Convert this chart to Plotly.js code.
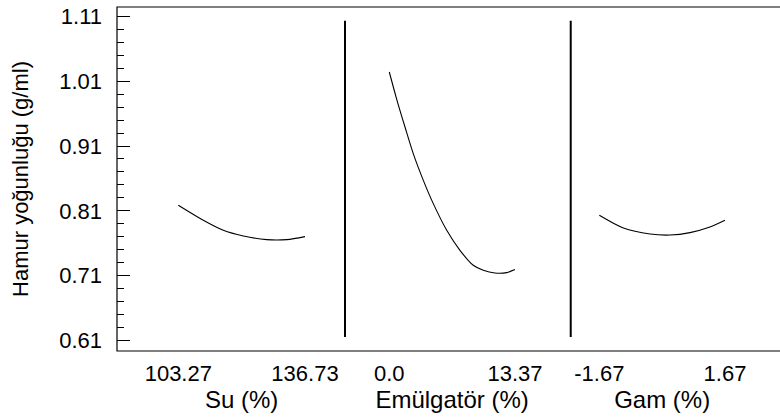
<!DOCTYPE html>
<html>
<head>
<meta charset="utf-8">
<script src="https://cdn.plot.ly/plotly-3.0.1.min.js"></script>
<style>
html, body { margin: 0; padding: 0; overflow: hidden; background: #fff; }
#chart { width: 788px; height: 417px; }
</style>
</head>
<body>
<div id="chart"></div>
<script>
// Factor 1: Su (%)
const suX = [103.27, 109.87, 115.15, 120.44, 126.6, 131.9, 136.73];
const suY = [0.8186, 0.7955, 0.7800, 0.7713, 0.7657, 0.7657, 0.7703];
// Factor 2: Emülgatör (%)
const emX = [0.0, 0.79, 1.67, 2.55, 3.62, 4.68, 6.11, 7.52, 8.93, 10.0, 11.24, 12.49, 13.37];
const emY = [1.0241, 0.9820, 0.9393, 0.8983, 0.8571, 0.8212, 0.7801, 0.7492, 0.7261, 0.7184, 0.7142, 0.7148, 0.7195];
// Factor 3: Gam (%)
const gamX = [-1.67, -1.03, -0.32, 0.21, 0.74, 1.27, 1.67];
const gamY = [0.8032, 0.7836, 0.7744, 0.7728, 0.7765, 0.7851, 0.7955];

const suTicks = [103.27, 136.73];
const suTickText = ["103.27", "136.73"];
const emTicks = [0.0, 13.37];
const emTickText = ["0.0", "13.37"];
const gamTicks = [-1.67, 1.67];
const gamTickText = ["-1.67", "1.67"];

const yTitle = "Hamur yoğunluğu (g/ml)";
const xTitles = ["Su (%)", "Emülgatör (%)", "Gam (%)"];

const FONT = "Liberation Sans, Arial, Helvetica, sans-serif";
const lineStyle = {color: "#000", width: 1.1};

const traces = [
  {x: suX, y: suY, xaxis: "x", yaxis: "y", mode: "lines", line: Object.assign({shape: "spline", smoothing: 0.8}, lineStyle), hoverinfo: "skip"},
  {x: emX, y: emY, xaxis: "x2", yaxis: "y", mode: "lines", line: Object.assign({shape: "spline", smoothing: 0.8}, lineStyle), hoverinfo: "skip"},
  {x: gamX, y: gamY, xaxis: "x3", yaxis: "y", mode: "lines", line: Object.assign({shape: "spline", smoothing: 0.8}, lineStyle), hoverinfo: "skip"}
];

const yRange = [0.594, 1.1243];

function xAxis(domain, range, tickvals, ticktext, title) {
  return {
    domain: domain, range: range, anchor: "y",
    tickmode: "array", tickvals: tickvals, ticktext: ticktext,
    ticks: "", showline: false, showgrid: false, zeroline: false,
    ticklabelstandoff: 7,
    tickfont: {family: FONT, size: 22, color: "#000"},
    title: {text: title, font: {family: FONT, size: 24, color: "#000"}, standoff: 6},
    fixedrange: true
  };
}

const layout = {
  width: 788, height: 417,
  margin: {l: 117, r: 1, t: 7, b: 66},
  paper_bgcolor: "#fff", plot_bgcolor: "#fff",
  showlegend: false,
  font: {family: FONT, size: 22, color: "#000"},
  xaxis: xAxis([0, 0.3721], [87.08, 152.92], suTicks, suTickText, xTitles[0]),
  xaxis2: xAxis([0.3403, 0.6601], [-4.712, 18.082], emTicks, emTickText, xTitles[1]),
  xaxis3: xAxis([0.6772, 0.9501], [-2.43, 2.43], gamTicks, gamTickText, xTitles[2]),
  yaxis: {
    range: yRange, anchor: "x", side: "left",
    tick0: 0.61, dtick: 0.1, tickformat: ".2f",
    ticks: "inside", ticklen: 13, tickwidth: 1, tickcolor: "#000",
    minor: {ticks: "inside", ticklen: 7, tickwidth: 1, tickcolor: "#000", tick0: 0.61, dtick: 0.02, showgrid: false},
    showline: false, showgrid: false, zeroline: false,
    ticklabelstandoff: 14,
    tickfont: {family: FONT, size: 22, color: "#000"},
    title: {text: yTitle, font: {family: FONT, size: 22, color: "#000"}, standoff: 24},
    fixedrange: true
  },
  yaxis2: {
    range: yRange, overlaying: "y", side: "right", anchor: "free", position: 1,
    tick0: 0.61, dtick: 0.1,
    ticks: "inside", ticklen: 13, tickwidth: 1, tickcolor: "#000",
    showticklabels: false, showline: false, showgrid: false, zeroline: false,
    fixedrange: true
  },
  shapes: [
    {type: "rect", xref: "paper", yref: "paper", x0: 0, x1: 1, y0: 0, y1: 1, line: {color: "#000", width: 1.2}},
    {type: "line", xref: "paper", yref: "y", x0: 0.3403, x1: 0.3403, y0: 0.6155, y1: 1.103, line: {color: "#000", width: 2}},
    {type: "line", xref: "paper", yref: "y", x0: 0.6772, x1: 0.6772, y0: 0.6155, y1: 1.103, line: {color: "#000", width: 2}}
  ]
};

Plotly.newPlot("chart", traces, layout, {staticPlot: true, displayModeBar: false});
</script>
</body>
</html>
